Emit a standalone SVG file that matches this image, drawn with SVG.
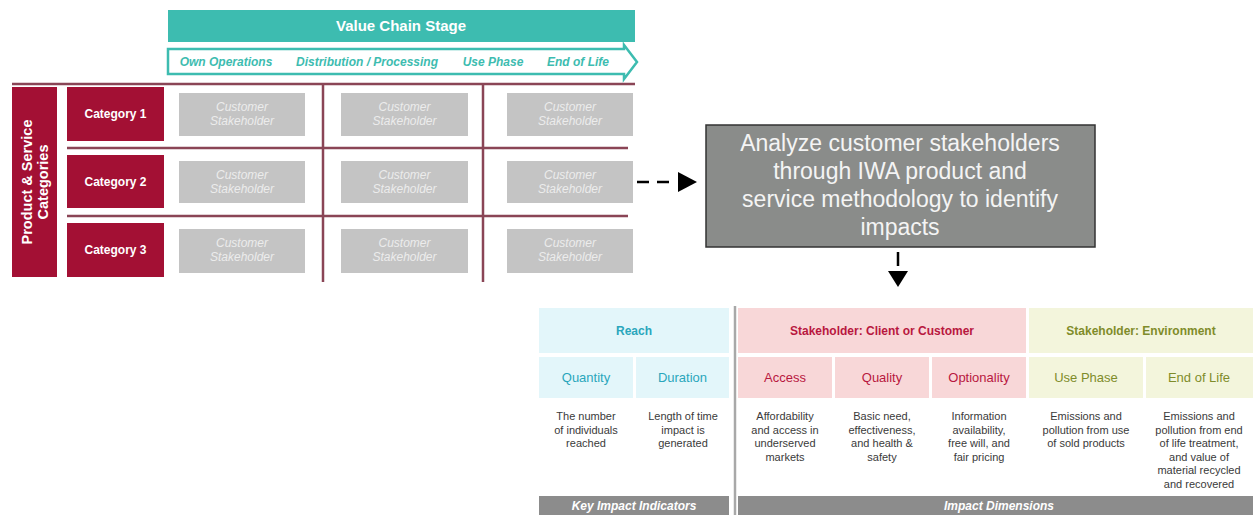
<svg xmlns="http://www.w3.org/2000/svg" width="1255" height="515" viewBox="0 0 1255 515">
<defs>
<style>
text{font-family:"Liberation Sans",Arial,sans-serif}
.cat{fill:#a31034}
.catt{fill:#fff;font-size:12px;font-weight:bold;text-anchor:middle}
.gb{fill:#c4c4c4}
.gbt{fill:#ececec;font-size:12px;font-style:italic;text-anchor:middle}
.gl{stroke:#8a4556;stroke-width:2.5;fill:none}
.vc{fill:#3dbcb0;font-size:12px;font-weight:bold;font-style:italic;text-anchor:middle}
.hd{font-size:12px;font-weight:bold;text-anchor:middle}
.sh{font-size:13px;text-anchor:middle}
.ds{font-size:11px;fill:#3a3a3a;text-anchor:middle}
.teal{fill:#2aa6bc}
.crim{fill:#b8173f}
.oliv{fill:#7f8c2a}
.bb{fill:#8c8c8c}
.bbt{fill:#fff;font-size:12px;font-weight:bold;font-style:italic;text-anchor:middle}
</style>
</defs>
<rect width="1255" height="515" fill="#fff"/>

<g id="value-chain-header">
<rect x="168" y="10" width="467" height="32" fill="#3dbcb0"/>
<text x="401" y="31" fill="#fff" font-size="15" font-weight="bold" text-anchor="middle">Value Chain Stage</text>
</g>
<g id="value-chain-arrow">
<path d="M168,49 L624,49 L624,45 L637,62 L624,79 L624,74 L168,74 Z" fill="#fff" stroke="#3dbcb0" stroke-width="2.5" stroke-linejoin="miter"/>
<text class="vc" x="226" y="66">Own Operations</text>
<text class="vc" x="367" y="66">Distribution / Processing</text>
<text class="vc" x="493" y="66">Use Phase</text>
<text class="vc" x="578" y="66">End of Life</text>
</g>

<g id="grid-lines">
<line class="gl" x1="12" y1="84" x2="635" y2="84"/>
<line class="gl" x1="67" y1="148" x2="628" y2="148"/>
<line class="gl" x1="67" y1="216" x2="628" y2="216"/>
<line class="gl" x1="323" y1="84" x2="323" y2="282"/>
<line class="gl" x1="483" y1="84" x2="483" y2="282"/>
</g>

<g id="product-service-categories">
<rect class="cat" x="12" y="87" width="45" height="190"/>
<text transform="translate(34,182) rotate(-90)" fill="#fff" font-size="14.5" font-weight="bold" text-anchor="middle"><tspan x="0" y="-2">Product &amp; Service</tspan><tspan x="0" y="14">Categories</tspan></text>
</g>

<g id="category-1">
<rect class="cat" x="67" y="87" width="97" height="54"/>
<text class="catt" x="115.5" y="118">Category 1</text>
</g>
<g id="category-2">
<rect class="cat" x="67" y="155" width="97" height="53"/>
<text class="catt" x="115.5" y="186">Category 2</text>
</g>
<g id="category-3">
<rect class="cat" x="67" y="223" width="97" height="54"/>
<text class="catt" x="115.5" y="254">Category 3</text>
</g>

<g id="stakeholder-r1c1"><rect class="gb" x="179" y="93" width="126" height="43"/><text class="gbt" x="242" y="111">Customer</text><text class="gbt" x="242" y="125">Stakeholder</text></g>
<g id="stakeholder-r1c2"><rect class="gb" x="341" y="93" width="127" height="43"/><text class="gbt" x="404.5" y="111">Customer</text><text class="gbt" x="404.5" y="125">Stakeholder</text></g>
<g id="stakeholder-r1c3"><rect class="gb" x="507" y="93" width="126" height="43"/><text class="gbt" x="570" y="111">Customer</text><text class="gbt" x="570" y="125">Stakeholder</text></g>
<g id="stakeholder-r2c1"><rect class="gb" x="179" y="161" width="126" height="42"/><text class="gbt" x="242" y="179">Customer</text><text class="gbt" x="242" y="193">Stakeholder</text></g>
<g id="stakeholder-r2c2"><rect class="gb" x="341" y="161" width="127" height="42"/><text class="gbt" x="404.5" y="179">Customer</text><text class="gbt" x="404.5" y="193">Stakeholder</text></g>
<g id="stakeholder-r2c3"><rect class="gb" x="507" y="161" width="126" height="42"/><text class="gbt" x="570" y="179">Customer</text><text class="gbt" x="570" y="193">Stakeholder</text></g>
<g id="stakeholder-r3c1"><rect class="gb" x="179" y="229" width="126" height="44"/><text class="gbt" x="242" y="247">Customer</text><text class="gbt" x="242" y="261">Stakeholder</text></g>
<g id="stakeholder-r3c2"><rect class="gb" x="341" y="229" width="127" height="44"/><text class="gbt" x="404.5" y="247">Customer</text><text class="gbt" x="404.5" y="261">Stakeholder</text></g>
<g id="stakeholder-r3c3"><rect class="gb" x="507" y="229" width="126" height="44"/><text class="gbt" x="570" y="247">Customer</text><text class="gbt" x="570" y="261">Stakeholder</text></g>

<g id="analyze-box">
<rect x="706" y="125" width="389" height="122" fill="#8a8c8a" stroke="#333" stroke-width="1.5"/>
<text fill="#f4f4f4" font-size="23" text-anchor="middle"><tspan x="900" y="151">Analyze customer stakeholders</tspan><tspan x="900" y="179">through IWA product and</tspan><tspan x="900" y="207">service methodology to identify</tspan><tspan x="900" y="235">impacts</tspan></text>
</g>

<g id="connectors">
<line x1="637" y1="182" x2="675" y2="182" stroke="#000" stroke-width="2.5" stroke-dasharray="12 8"/>
<polygon points="678,172 697,182 678,192" fill="#000"/>
<line x1="898" y1="252" x2="898" y2="266" stroke="#000" stroke-width="2.5"/>
<polygon points="888,271 908,271 898,287" fill="#000"/>
</g>

<g id="divider">
<line x1="735" y1="306" x2="735" y2="515" stroke="#a8a8a8" stroke-width="2.5"/>
</g>

<g id="reach">
<rect x="539" y="308" width="190" height="45" fill="#e3f6fa"/>
<text class="hd teal" x="634" y="335">Reach</text>
</g>
<g id="quantity">
<rect x="539" y="357" width="94" height="41" fill="#e3f6fa"/>
<text class="sh teal" x="586" y="382">Quantity</text>
<text class="ds"><tspan x="586" y="420">The number</tspan><tspan x="586" y="433.5">of individuals</tspan><tspan x="586" y="447">reached</tspan></text>
</g>
<g id="duration">
<rect x="636" y="357" width="93" height="41" fill="#e3f6fa"/>
<text class="sh teal" x="682.5" y="382">Duration</text>
<text class="ds"><tspan x="683" y="420">Length of time</tspan><tspan x="683" y="433.5">impact is</tspan><tspan x="683" y="447">generated</tspan></text>
</g>

<g id="stakeholder-client">
<rect x="738" y="308" width="288" height="45" fill="#f8d7d8"/>
<text class="hd crim" x="882" y="335">Stakeholder: Client or Customer</text>
</g>
<g id="access">
<rect x="738" y="357" width="94" height="41" fill="#f8d7d8"/>
<text class="sh crim" x="785" y="382">Access</text>
<text class="ds"><tspan x="785" y="420">Affordability</tspan><tspan x="785" y="433.5">and access in</tspan><tspan x="785" y="447">underserved</tspan><tspan x="785" y="460.5">markets</tspan></text>
</g>
<g id="quality">
<rect x="835" y="357" width="94" height="41" fill="#f8d7d8"/>
<text class="sh crim" x="882" y="382">Quality</text>
<text class="ds"><tspan x="882" y="420">Basic need,</tspan><tspan x="882" y="433.5">effectiveness,</tspan><tspan x="882" y="447">and health &amp;</tspan><tspan x="882" y="460.5">safety</tspan></text>
</g>
<g id="optionality">
<rect x="932" y="357" width="94" height="41" fill="#f8d7d8"/>
<text class="sh crim" x="979" y="382">Optionality</text>
<text class="ds"><tspan x="979" y="420">Information</tspan><tspan x="979" y="433.5">availability,</tspan><tspan x="979" y="447">free will, and</tspan><tspan x="979" y="460.5">fair pricing</tspan></text>
</g>

<g id="stakeholder-environment">
<rect x="1029" y="308" width="224" height="45" fill="#f3f5dc"/>
<text class="hd oliv" x="1141" y="335">Stakeholder: Environment</text>
</g>
<g id="use-phase">
<rect x="1029" y="357" width="114" height="41" fill="#f3f5dc"/>
<text class="sh oliv" x="1086" y="382">Use Phase</text>
<text class="ds"><tspan x="1086" y="420">Emissions and</tspan><tspan x="1086" y="433.5">pollution from use</tspan><tspan x="1086" y="447">of sold products</tspan></text>
</g>
<g id="end-of-life">
<rect x="1146" y="357" width="107" height="41" fill="#f3f5dc"/>
<text class="sh oliv" x="1199" y="382">End of Life</text>
<text class="ds"><tspan x="1199" y="420">Emissions and</tspan><tspan x="1199" y="433.5">pollution from end</tspan><tspan x="1199" y="447">of life treatment,</tspan><tspan x="1199" y="460.5">and value of</tspan><tspan x="1199" y="474">material recycled</tspan><tspan x="1199" y="487.5">and recovered</tspan></text>
</g>

<g id="key-impact-indicators">
<rect class="bb" x="539" y="496" width="190" height="19"/>
<text class="bbt" x="634" y="510">Key Impact Indicators</text>
</g>
<g id="impact-dimensions">
<rect class="bb" x="738" y="496" width="515" height="19"/>
<text class="bbt" x="999" y="510">Impact Dimensions</text>
</g>
</svg>
